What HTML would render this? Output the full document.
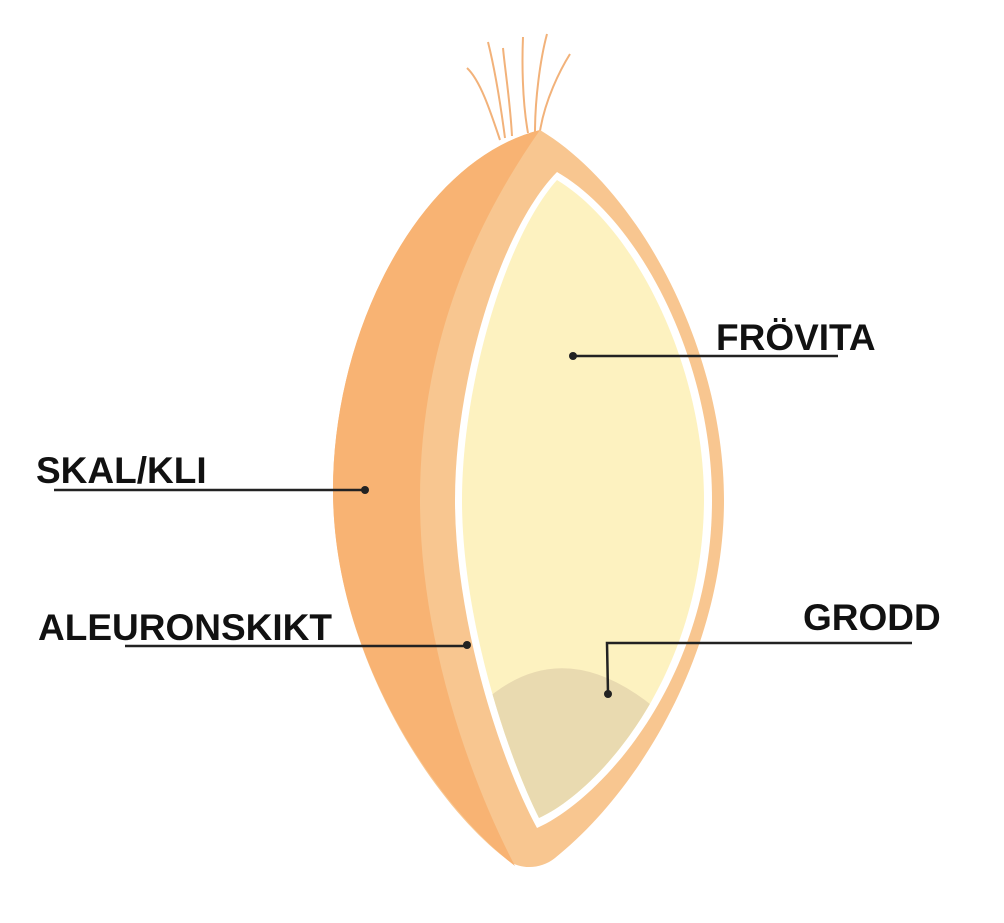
<!DOCTYPE html>
<html><head><meta charset="utf-8"><style>
html,body{margin:0;padding:0;background:#fff;width:1004px;height:923px;overflow:hidden}
text{font-family:"Liberation Sans",Arial,sans-serif;font-weight:bold;font-size:37px;fill:#111}
</style></head><body>
<svg width="1004" height="923" viewBox="0 0 1004 923" xmlns="http://www.w3.org/2000/svg">
<defs>
<clipPath id="cr"><path d="M557,180 C505,238 462,386 462,500 C462,616 505,750 539,818 C600,790 703,674 704,500 C704,366 636,228 557,180 Z"/></clipPath>
</defs>
<g fill="none" stroke="#f2b27a" stroke-width="2">
<path d="M500,140 C490,110 480,80 467,68"/>
<path d="M505,138 C500,100 495,70 488,42"/>
<path d="M512,136 C510,100 505,70 503,48"/>
<path d="M528,133 C522,100 522,60 523,37"/>
<path d="M535,132 C535,100 540,60 547,34"/>
<path d="M540,131 C545,100 560,70 570,54"/>
</g>
<path d="M540,130 C420,160 333,330 333,490 C333,650 430,800 505,858 C518,870 540,870 555,858 C640,790 724,650 724,500 C724,350 640,190 540,130 Z" fill="#f8c690"/>
<path d="M540,130 C420,160 333,330 333,490 C333,650 430,800 515,866 C470,780 420,640 420,500 C420,350 470,230 540,130 Z" fill="#f8b373"/>
<path d="M557,172 C500,230 455,380 455,500 C455,620 500,760 537,828 C600,800 712,680 712,500 C712,360 640,220 557,172 Z" fill="#fff"/>
<path d="M557,180 C505,238 462,386 462,500 C462,616 505,750 539,818 C600,790 703,674 704,500 C704,366 636,228 557,180 Z" fill="#fdf2c0"/>
<path d="M480,705 Q560,630 655,708 L700,840 L460,840 Z" fill="#e9dab0" clip-path="url(#cr)"/>
<g stroke="#222" stroke-width="2.5" fill="none">
<line x1="573" y1="356" x2="838" y2="356"/>
<line x1="54" y1="490" x2="365" y2="490"/>
<line x1="125" y1="646" x2="467" y2="646"/>
<polyline points="912,643 607,643 608,693"/>
</g>
<g fill="#222">
<circle cx="573" cy="356" r="4"/>
<circle cx="365" cy="490" r="4"/>
<circle cx="467" cy="645" r="4"/>
<circle cx="608" cy="694" r="4"/>
</g>
<text x="716" y="350">FRÖVITA</text>
<text x="36" y="483">SKAL/KLI</text>
<text x="38" y="640">ALEURONSKIKT</text>
<text x="803" y="630">GRODD</text>
</svg>
</body></html>
